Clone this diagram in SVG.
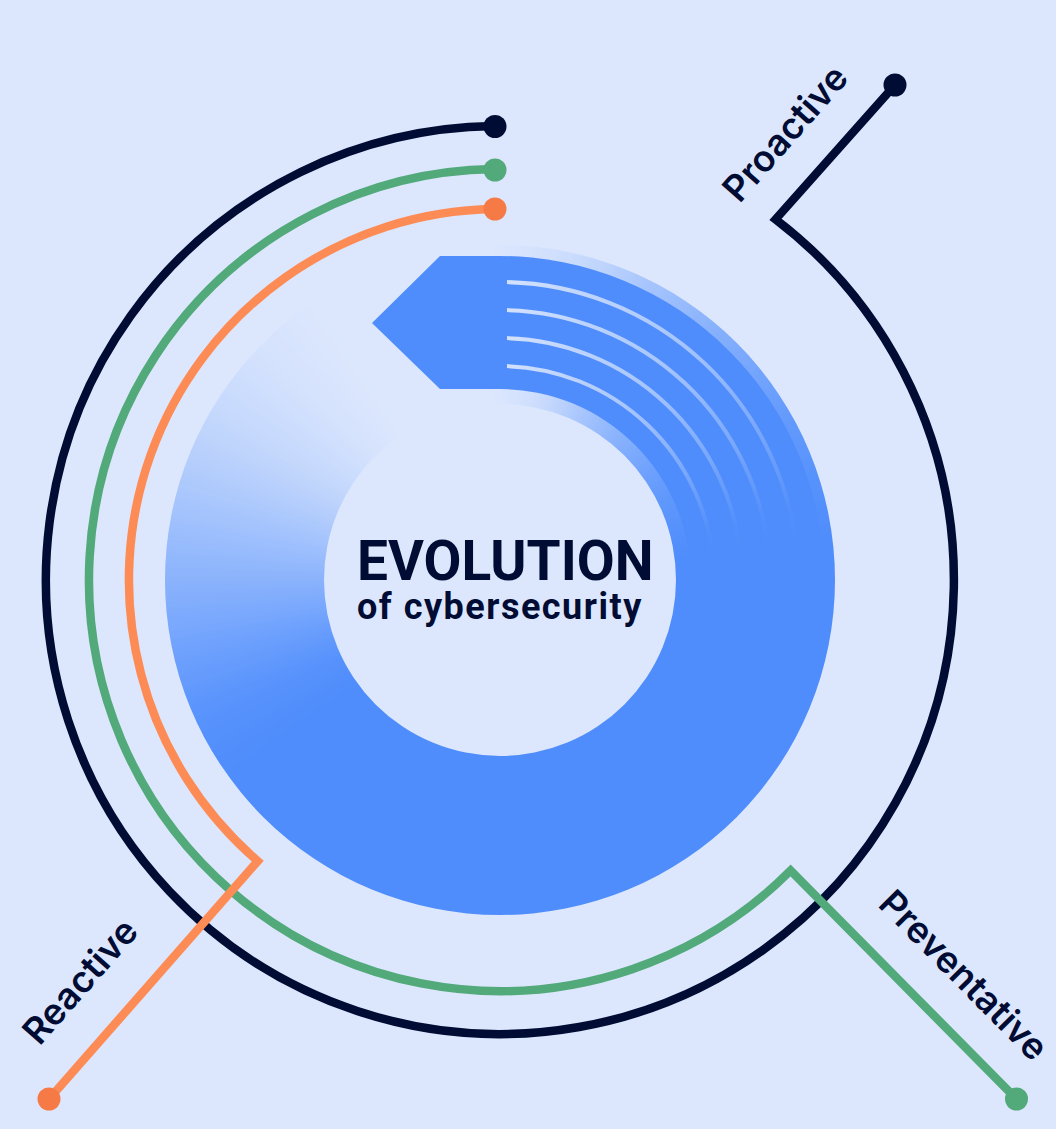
<svg xmlns="http://www.w3.org/2000/svg" width="1056" height="1129" viewBox="0 0 1056 1129">
  <style>
    .bg { fill: #DCE7FD; }
    .blue { fill: #4F8DFC; }
    .stripe { fill: none; stroke: #DCE7FD; stroke-width: 4; }
    .track { fill: none; stroke-width: 8.5; stroke-linejoin: miter; stroke-miterlimit: 10; }
    .navy { stroke: #000C33; }
    .green { stroke: #52A97A; }
    .orange { stroke: #FD8B55; }
    .label { font-family: Inter, Roboto, "Liberation Sans", sans-serif; font-weight: 600; font-size: 36.5px; fill: #000C33; text-anchor: middle; }
    .title { font-family: Roboto, "Liberation Sans", sans-serif; font-weight: 700; fill: #000C33; }
  </style>
  <defs>
    <!-- 6 degree wedge pointing up from the ring centre; rotated copies build angular fades -->
    <path id="wedge" d="M500 580 L500 160 L543.9 162.3 Z"/>
    <filter id="soften" x="-10%" y="-10%" width="120%" height="120%" color-interpolation-filters="sRGB">
      <feGaussianBlur stdDeviation="9"/>
    </filter>

    <!-- angular opacity of the outer ring: clear just left of 12 o'clock, solid from 3 to 7 o'clock -->
    <mask id="ringFade" maskUnits="userSpaceOnUse" x="0" y="0" width="1056" height="1129">
      <g filter="url(#soften)">
        <rect x="-50" y="-50" width="1156" height="1229" fill="#fff"/>
        <use href="#wedge" transform="rotate(-125 500 580)" fill="rgb(252,252,252)"/>
        <use href="#wedge" transform="rotate(-120 500 580)" fill="rgb(245,245,245)"/>
        <use href="#wedge" transform="rotate(-115 500 580)" fill="rgb(233,233,233)"/>
        <use href="#wedge" transform="rotate(-110 500 580)" fill="rgb(215,215,215)"/>
        <use href="#wedge" transform="rotate(-105 500 580)" fill="rgb(197,197,197)"/>
        <use href="#wedge" transform="rotate(-100 500 580)" fill="rgb(177,177,177)"/>
        <use href="#wedge" transform="rotate(-95 500 580)" fill="rgb(158,158,158)"/>
        <use href="#wedge" transform="rotate(-90 500 580)" fill="rgb(138,138,138)"/>
        <use href="#wedge" transform="rotate(-85 500 580)" fill="rgb(120,120,120)"/>
        <use href="#wedge" transform="rotate(-80 500 580)" fill="rgb(101,101,101)"/>
        <use href="#wedge" transform="rotate(-75 500 580)" fill="rgb(83,83,83)"/>
        <use href="#wedge" transform="rotate(-70 500 580)" fill="rgb(66,66,66)"/>
        <use href="#wedge" transform="rotate(-65 500 580)" fill="rgb(49,49,49)"/>
        <use href="#wedge" transform="rotate(-60 500 580)" fill="rgb(36,36,36)"/>
        <use href="#wedge" transform="rotate(-55 500 580)" fill="rgb(26,26,26)"/>
        <use href="#wedge" transform="rotate(-50 500 580)" fill="rgb(15,15,15)"/>
        <use href="#wedge" transform="rotate(-45 500 580)" fill="rgb(8,8,8)"/>
        <use href="#wedge" transform="rotate(-40 500 580)" fill="rgb(3,3,3)"/>
        <use href="#wedge" transform="rotate(-35 500 580)" fill="#000"/>
        <use href="#wedge" transform="rotate(-30 500 580)" fill="#000"/>
        <use href="#wedge" transform="rotate(-25 500 580)" fill="#000"/>
        <use href="#wedge" transform="rotate(-20 500 580)" fill="#000"/>
        <use href="#wedge" transform="rotate(-15 500 580)" fill="#000"/>
        <use href="#wedge" transform="rotate(-10 500 580)" fill="#000"/>
        <use href="#wedge" transform="rotate(-5 500 580)" fill="#000"/>
        <use href="#wedge" transform="rotate(0 500 580)" fill="rgb(5,5,5)"/>
        <use href="#wedge" transform="rotate(5 500 580)" fill="rgb(17,17,17)"/>
        <use href="#wedge" transform="rotate(10 500 580)" fill="rgb(31,31,31)"/>
        <use href="#wedge" transform="rotate(15 500 580)" fill="rgb(51,51,51)"/>
        <use href="#wedge" transform="rotate(20 500 580)" fill="rgb(77,77,77)"/>
        <use href="#wedge" transform="rotate(25 500 580)" fill="rgb(100,100,100)"/>
        <use href="#wedge" transform="rotate(30 500 580)" fill="rgb(121,121,121)"/>
        <use href="#wedge" transform="rotate(35 500 580)" fill="rgb(142,142,142)"/>
        <use href="#wedge" transform="rotate(40 500 580)" fill="rgb(161,161,161)"/>
        <use href="#wedge" transform="rotate(45 500 580)" fill="rgb(177,177,177)"/>
        <use href="#wedge" transform="rotate(50 500 580)" fill="rgb(193,193,193)"/>
        <use href="#wedge" transform="rotate(55 500 580)" fill="rgb(209,209,209)"/>
        <use href="#wedge" transform="rotate(60 500 580)" fill="rgb(222,222,222)"/>
        <use href="#wedge" transform="rotate(65 500 580)" fill="rgb(231,231,231)"/>
        <use href="#wedge" transform="rotate(70 500 580)" fill="rgb(241,241,241)"/>
        <use href="#wedge" transform="rotate(75 500 580)" fill="rgb(250,250,250)"/>
      </g>
    </mask>

    <!-- the light grooves fade out clockwise -->
    <mask id="stripeFade" maskUnits="userSpaceOnUse" x="0" y="0" width="1056" height="1129">
      <g filter="url(#soften)">
        <rect x="-50" y="-50" width="1156" height="1229" fill="#000"/>
        <use href="#wedge" transform="rotate(-15 500 580)" fill="rgb(240,240,240)"/>
        <use href="#wedge" transform="rotate(-10 500 580)" fill="rgb(240,240,240)"/>
        <use href="#wedge" transform="rotate(-5 500 580)" fill="rgb(240,240,240)"/>
        <use href="#wedge" transform="rotate(0 500 580)" fill="rgb(237,237,237)"/>
        <use href="#wedge" transform="rotate(5 500 580)" fill="rgb(225,225,225)"/>
        <use href="#wedge" transform="rotate(10 500 580)" fill="rgb(214,214,214)"/>
        <use href="#wedge" transform="rotate(15 500 580)" fill="rgb(203,203,203)"/>
        <use href="#wedge" transform="rotate(20 500 580)" fill="rgb(192,192,192)"/>
        <use href="#wedge" transform="rotate(25 500 580)" fill="rgb(181,181,181)"/>
        <use href="#wedge" transform="rotate(30 500 580)" fill="rgb(170,170,170)"/>
        <use href="#wedge" transform="rotate(35 500 580)" fill="rgb(159,159,159)"/>
        <use href="#wedge" transform="rotate(40 500 580)" fill="rgb(143,143,143)"/>
        <use href="#wedge" transform="rotate(45 500 580)" fill="rgb(124,124,124)"/>
        <use href="#wedge" transform="rotate(50 500 580)" fill="rgb(105,105,105)"/>
        <use href="#wedge" transform="rotate(55 500 580)" fill="rgb(86,86,86)"/>
        <use href="#wedge" transform="rotate(60 500 580)" fill="rgb(66,66,66)"/>
        <use href="#wedge" transform="rotate(65 500 580)" fill="rgb(45,45,45)"/>
        <use href="#wedge" transform="rotate(70 500 580)" fill="rgb(23,23,23)"/>
        <use href="#wedge" transform="rotate(75 500 580)" fill="rgb(6,6,6)"/>
      </g>
    </mask>
  </defs>

  <rect class="bg" x="0" y="0" width="1056" height="1129"/>

  <!-- central emblem: faded ring, arrow band with grooves, title -->
  <g id="emblem">
    <path class="blue" fill-rule="evenodd" mask="url(#ringFade)"
          d="M165 580 A335 335 0 1 0 835 580 A335 335 0 1 0 165 580 Z
             M324 580 A176 176 0 1 1 676 580 A176 176 0 1 1 324 580 Z"/>
    <path class="blue"
          d="M372 323 L440 256 L500 256 A324 324 0 0 1 500 904 L500 771 A191 191 0 0 0 500 389 L440 389 Z"/>
    <g mask="url(#stripeFade)">
      <path class="stripe" d="M507 282.1 A298 298 0 0 1 796.9 554"/>
      <path class="stripe" d="M507 310.1 A270 270 0 0 1 769 556.5"/>
      <path class="stripe" d="M507 338.1 A242 242 0 0 1 741.1 558.9"/>
      <path class="stripe" d="M507 366.1 A214 214 0 0 1 713.2 561.3"/>
    </g>
    <text class="title" x="357" y="580" font-size="55">EVOLUTION</text>
    <text class="title" x="357" y="619" font-size="36" letter-spacing="1.5">of cybersecurity</text>
  </g>

  <!-- connectors: three concentric tracks that break away towards their labels -->
  <g id="connectors">
    <path class="track navy" d="M494 126.04 A454 454 0 1 0 775.6 219.3 L895 85"/>
    <circle cx="495" cy="126.5" r="11.5" fill="#000C33"/>
    <circle cx="895" cy="85" r="11.5" fill="#000C33"/>

    <path class="track green" d="M494 169.04 A411 411 0 1 0 790.6 870.6 L1016.5 1099"/>
    <circle cx="495" cy="170" r="11.5" fill="#52A97A"/>
    <circle cx="1016.5" cy="1099" r="11.5" fill="#52A97A"/>

    <path class="track orange" d="M494 209.05 A371 371 0 0 0 257.8 861.1 L49 1099"/>
    <circle cx="495" cy="209" r="11.5" fill="#F67A45"/>
    <circle cx="49" cy="1099" r="11.5" fill="#F67A45"/>
  </g>

  <g id="node-proactive">
    <text class="label" transform="translate(785 133) rotate(-48.6)" y="13">Proactive</text>
  </g>
  <g id="node-reactive">
    <text class="label" transform="translate(80 981) rotate(-48.6)" y="13">Reactive</text>
  </g>
  <g id="node-preventative">
    <text class="label" transform="translate(964 975) rotate(45.3)" y="13">Preventative</text>
  </g>
</svg>
